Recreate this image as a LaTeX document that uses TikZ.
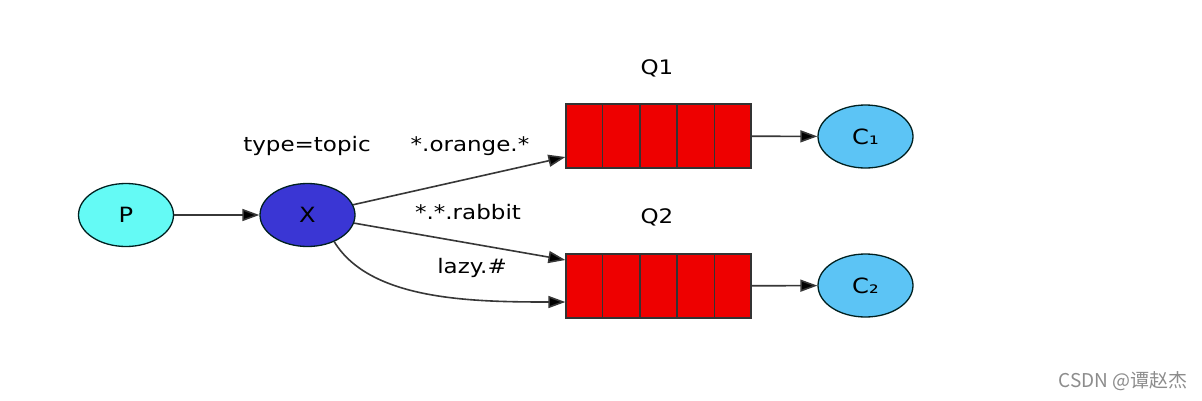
\documentclass[tikz,border=0pt]{standalone}
\usepackage{fontspec}
\setmainfont{DejaVu Sans}[FakeStretch=1.15]
\newfontfamily\cjk{Noto Sans CJK SC}
\usetikzlibrary{shapes.geometric,arrows.meta,calc}
\definecolor{pfill}{RGB}{100,250,245}
\definecolor{xfill}{RGB}{58,54,212}
\definecolor{cfill}{RGB}{92,196,245}
\definecolor{qfill}{RGB}{238,0,0}
\definecolor{edgecol}{RGB}{55,55,55}
\definecolor{wm}{RGB}{140,140,140}
\tikzset{
  lbl/.style={font=\fontsize{20}{24}\selectfont, inner sep=0pt},
  ellnode/.style={ellipse, draw=black!75!teal, line width=1.3pt, minimum width=95pt, minimum height=63pt, inner sep=0pt, font=\fontsize{21}{24}\selectfont},
  queue/.style={rectangle, draw=black!80, line width=1.3pt, fill=qfill, minimum width=185pt, minimum height=64pt, inner sep=0pt},
  conn/.style={draw=edgecol, line width=1.6pt, -{Triangle[length=17pt,width=12pt,fill=black]}},
}
\begin{document}
\begin{tikzpicture}[x=1pt,y=-1pt]
\useasboundingbox[fill=white] (0,0) rectangle (1202,400);
\node[ellnode, fill=pfill] (p) at (126,215) {P};
\node[ellnode, fill=xfill] (x) at (307.5,215) {X};
\node[queue] (q1) at (658.5,136) {};
\node[queue] (q2) at (658.5,286) {};
\foreach \q in {q1,q2}{
  \foreach \f in {0.2,0.4,0.6,0.8}{
    \draw[black!80, line width=1.3pt] ($(\q.north west)!\f!(\q.north east)$) -- ($(\q.south west)!\f!(\q.south east)$);
  }
}
\node[ellnode, fill=cfill] (c1) at (865.5,136.5) {C₁};
\node[ellnode, fill=cfill] (c2) at (865.5,285.5) {C₂};
\node[lbl] (lq1) at (657,68) {Q1};
\node[lbl] (lq2) at (657,217) {Q2};
\node[lbl] (ltype) at (307,146) {type=topic};
\node[lbl] (lorange) at (470,146) {*.orange.*};
\node[lbl] (lrabbit) at (468,212) {*.*.rabbit};
\node[lbl] (llazy) at (472,268) {lazy.\#};
\draw[conn] (p) -- (x);
\draw[conn] (x) -- ([yshift=-21pt]q1.west);
\draw[conn] (x) -- ([yshift=26pt]q2.west);
\draw[conn] (x.-45) .. controls (370,300) and (470,302) .. ([yshift=-16pt]q2.west);
\draw[conn] (q1) -- (c1);
\draw[conn] (q2) -- (c2);
\node[anchor=east, inner sep=0pt, text=wm, font=\cjk\fontsize{19}{22}\selectfont] (wmk) at (1188,381) {CSDN @谭赵杰};
\end{tikzpicture}
\end{document}
